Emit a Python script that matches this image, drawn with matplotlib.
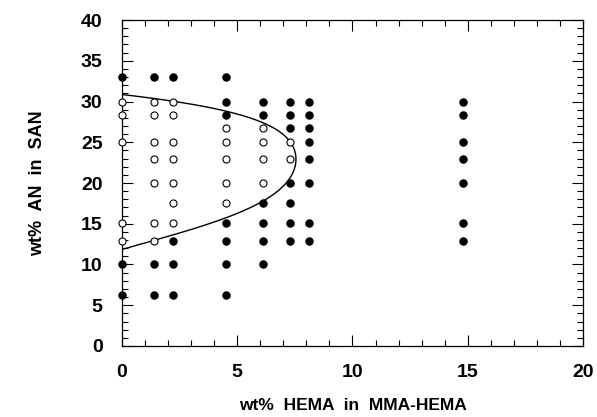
import numpy as np
import matplotlib.pyplot as plt
from matplotlib.ticker import MultipleLocator

plt.rcParams['font.family'] = ['Liberation Sans', 'DejaVu Sans']
plt.rcParams['font.weight'] = 'bold'

# --- data -------------------------------------------------------------------

# wt% HEMA columns and the wt% AN values in each, filled = two phases
hema_cols = [0.0, 1.4, 2.2, 4.5, 6.1, 7.3, 8.1, 14.8]
an_levels = [33, 30, 28.3, 26.8, 25, 22.9, 20, 17.6, 15.1, 12.9, 10, 6.2]

# "o" open (miscible), "f" filled (immiscible), "" no point
grid = {
    0.0:  ["f", "o", "o", "",  "o", "",  "",  "",  "o", "o", "f", "f"],
    1.4:  ["f", "o", "o", "",  "o", "o", "o", "",  "o", "o", "f", "f"],
    2.2:  ["f", "o", "o", "",  "o", "o", "o", "o", "o", "f", "f", "f"],
    4.5:  ["f", "f", "f", "o", "o", "o", "o", "o", "f", "f", "f", "f"],
    6.1:  ["",  "f", "f", "o", "o", "o", "o", "f", "f", "f", "f", ""],
    7.3:  ["",  "f", "f", "f", "o", "o", "f", "f", "f", "f", "",  ""],
    8.1:  ["",  "f", "f", "f", "f", "f", "f", "",  "f", "f", "",  ""],
    14.8: ["",  "f", "f", "",  "f", "f", "f", "",  "f", "f", "",  ""],
}

# boundary curve, points
curve_x = [0.0, 1.42, 2.2, 3.44, 4.45, 5.6, 6.62, 7.27, 7.7, 7.29, 6.75, 6.13, 5.55, 4.45, 3.0, 1.42, 0.0]
curve_y = [30.85, 30.5, 30.3, 29.5, 28.75, 27.7, 26.5, 25.3, 23.0, 20.2, 19.0, 17.9, 17.0, 15.9, 14.2, 12.8, 11.85]

filled_x, filled_y, open_x, open_y = [], [], [], []
for hx in hema_cols:
    for an, kind in zip(an_levels, grid[hx]):
        if kind == "f":
            filled_x.append(hx)
            filled_y.append(an)
        elif kind == "o":
            open_x.append(hx)
            open_y.append(an)

fig = plt.figure(figsize=(5.97, 4.17), dpi=100)
ax = fig.add_axes([0.2044, 0.1703, 0.772, 0.7817])

# smooth the boundary through the read points (weight the ends so it meets the axis)
w = np.ones(len(curve_y))
w[0] = w[-1] = 6
coef = np.polyfit(curve_y, curve_x, 5, w=w)
yy = np.linspace(min(curve_y) - 0.5, max(curve_y) + 0.5, 300)
ax.plot(np.polyval(coef, yy), yy, color="black", lw=1.0, zorder=2)

ax.scatter(filled_x, filled_y, s=26, color="black", zorder=3, clip_on=False)
ax.scatter(open_x, open_y, s=26, facecolor="white", edgecolor="black",
           linewidth=0.8, zorder=3, clip_on=False)

ax.set_xlim(0, 20)
ax.set_ylim(0, 40)
ax.xaxis.set_major_locator(MultipleLocator(5))
ax.xaxis.set_minor_locator(MultipleLocator(1))
ax.yaxis.set_major_locator(MultipleLocator(5))
ax.yaxis.set_minor_locator(MultipleLocator(1))
ax.tick_params(which="both", direction="in", top=True, right=True, width=0.8)
ax.tick_params(which="major", length=8, labelsize=14)
ax.tick_params(axis="x", which="major", pad=13)
ax.tick_params(axis="y", which="major", pad=14)
ax.tick_params(which="minor", length=4)
for sp in ax.spines.values():
    sp.set_linewidth(0.9)

ax.set_xlabel("wt%  HEMA  in  MMA-HEMA", fontsize=12.5, fontweight="bold", labelpad=12)
ax.set_ylabel("wt%  AN  in  SAN", fontsize=13, fontweight="bold", labelpad=25)

fig.savefig("out.png", dpi=100)
